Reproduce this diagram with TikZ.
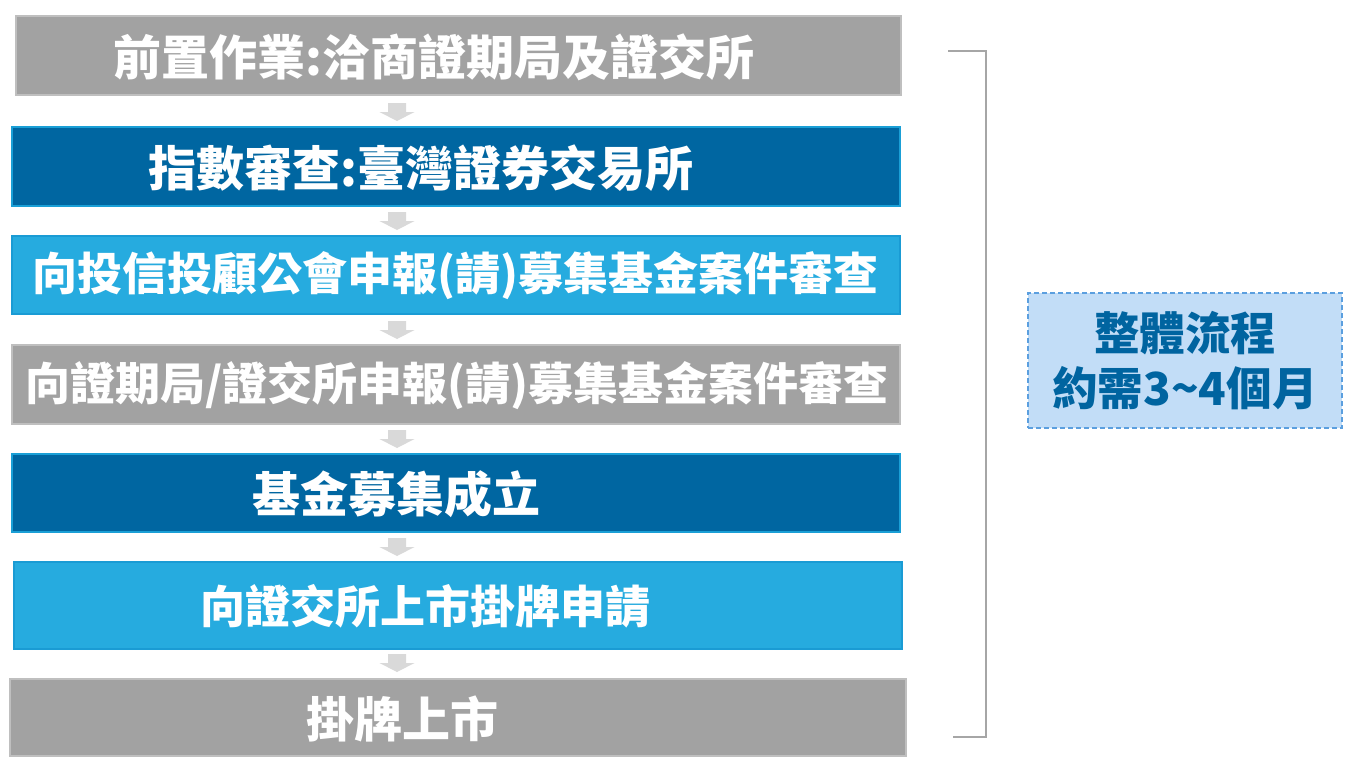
\documentclass[tikz,border=0pt]{standalone}
\usepackage{fontspec}
\newfontfamily\cjk{Noto Sans CJK TC}
\usetikzlibrary{calc}
\definecolor{boxgray}{HTML}{A2A2A2}
\definecolor{boxgrayline}{HTML}{BFBFBF}
\definecolor{boxdark}{HTML}{0066A1}
\definecolor{boxdarkline}{HTML}{1A9FD6}
\definecolor{boxlight}{HTML}{26ABDF}
\definecolor{boxlightline}{HTML}{1A9BD4}
\definecolor{arrowgray}{HTML}{D9D9D9}
\definecolor{bracketgray}{HTML}{A6A6A6}
\definecolor{notefill}{HTML}{C2DDF7}
\definecolor{noteline}{HTML}{5B9FDF}
\definecolor{notetext}{HTML}{0064A0}
\tikzset{
  x=1pt, y=-1pt,
  stepbox/.style={line width=2pt, inner sep=0pt},
  graybox/.style={stepbox, fill=boxgray, draw=boxgrayline},
  darkbox/.style={stepbox, fill=boxdark, draw=boxdarkline},
  lightbox/.style={stepbox, fill=boxlight, draw=boxlightline},
  steptext/.style={text=white, font=\cjk\bfseries\fontsize{48}{52}\selectfont, inner sep=0pt, anchor=center},
  smalltext/.style={steptext, font=\cjk\bfseries\fontsize{45}{50}\selectfont},
  notetextstyle/.style={text=notetext, font=\cjk\bfseries\fontsize{45.5}{55}\selectfont, align=center, inner sep=0pt},
  flowarrow/.style={fill=arrowgray, draw=none},
  bracketline/.style={draw=bracketgray, line width=2pt},
}
\newcommand\boxat[6]{%
  \path[#6] (#2,#3) rectangle (#4,#5);
  \coordinate (#1n) at ({(#2+#4)/2},#3);
  \coordinate (#1s) at ({(#2+#4)/2},#5);}
\newcommand\flowdown[1]{%
  \path[flowarrow] ($(#1)+(-9,0)$) -- ++(18,0) -- ++(0,9) -- ++(8.5,0)
    -- ++(-17.5,9) -- ++(-17.5,-9) -- ++(8.5,0) -- cycle;}
\begin{document}
\begin{tikzpicture}
\useasboundingbox[fill=white] (0,0) rectangle (1356,779);
% boxes
\boxat{b1}{16}{16}{901}{95}{graybox}
\boxat{b2}{12}{127}{900}{206}{darkbox}
\boxat{b3}{12}{236}{900}{314}{lightbox}
\boxat{b4}{12}{345}{900}{424}{graybox}
\boxat{b5}{12}{454}{900}{532}{darkbox}
\boxat{b6}{14}{562}{902}{649}{lightbox}
\boxat{b7}{10}{679}{906}{756}{graybox}
% texts
\node[steptext] (t1) at (434,57) {前置作業:洽商證期局及證交所};
\node[steptext] (t2) at (421,168) {指數審查:臺灣證券交易所};
\node[smalltext] (t3) at (455,276) {向投信投顧公會申報(請)募集基金案件審查};
\node[smalltext] (t4) at (457,386) {向證期局/證交所申報(請)募集基金案件審查};
\node[steptext] (t5) at (396,494) {基金募集成立};
\node[smalltext] (t6) at (425,606) {向證交所上市掛牌申請};
\node[steptext] (t7) at (402,719) {掛牌上市};
% arrows
\coordinate (a1) at (397,103);
\coordinate (a2) at (397,212);
\coordinate (a3) at (397,321);
\coordinate (a4) at (397,430);
\coordinate (a5) at (397,538);
\coordinate (a6) at (397,654);
\flowdown{a1}\flowdown{a2}\flowdown{a3}\flowdown{a4}\flowdown{a5}\flowdown{a6}
% bracket
\coordinate (brtop) at (948,51);
\coordinate (brbot) at (953,737);
\draw[bracketline] (brtop) -- (986,51) -- (986,737) -- (brbot);
% note
\node[draw=noteline, fill=notefill, dash pattern=on 5pt off 3pt, line width=1.5pt, minimum width=314pt, minimum height=135pt, inner sep=0pt] (note) at (1185,360.5) {};
\node[notetextstyle] (n1) at (1185,333) {整體流程};
\node[notetextstyle] (n2) at (1185,388) {約需3\textasciitilde 4個月};
\end{tikzpicture}
\end{document}
